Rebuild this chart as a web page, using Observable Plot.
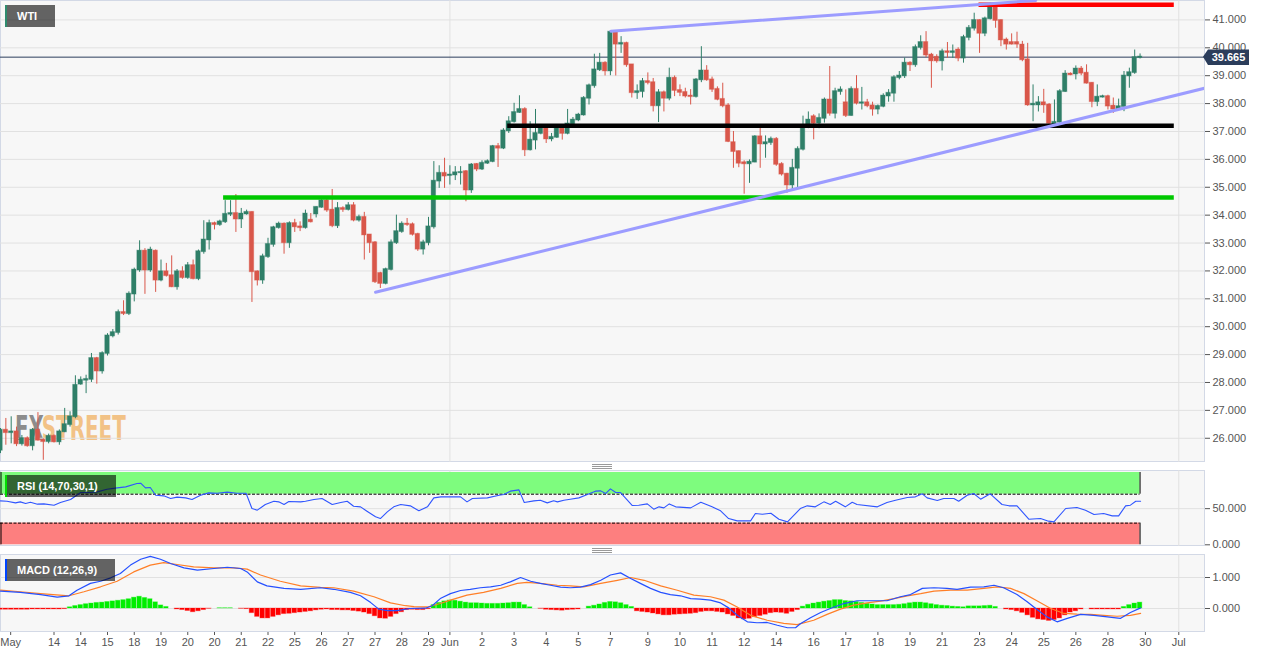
<!DOCTYPE html>
<html><head><meta charset="utf-8">
<script src="https://cdn.jsdelivr.net/npm/d3@7"></script>
<script src="https://cdn.jsdelivr.net/npm/@observablehq/plot@0.6"></script>
<style>
html,body{margin:0;padding:0;background:#fff;}
#wrap{position:relative;width:1269px;height:655px;overflow:hidden;font-family:'Liberation Sans',Arial,sans-serif;}
.panel{position:absolute;left:0;width:1205px;box-sizing:border-box;background:#f7f7f7;border:1px solid #d3d9e6;}
.layer{position:absolute;left:0;}
.tag{position:absolute;height:22px;line-height:22px;background:rgba(0,0,0,0.6);color:#fff;font-weight:bold;font-size:11px;box-sizing:border-box;padding-left:10px;border-left:2px solid;}
.handle{position:absolute;left:592px;width:20px;height:3px;border-top:1px solid #9a9a9a;border-bottom:1px solid #9a9a9a;}
.handle::after{content:"";position:absolute;left:0;right:0;top:1px;border-top:1px solid #9a9a9a;}
</style></head>
<body>
<div id="wrap">
  <div class="panel" style="top:0;height:462px;"></div>
  <div class="panel" style="top:470px;height:76px;"></div>
  <div class="panel" style="top:554px;height:78px;"></div>
  <svg style="position:absolute;left:0;top:400px;" width="200" height="50">
    <g transform="translate(15,39.5) scale(0.67,1)" font-size="33" font-weight="bold" font-family="'DejaVu Sans Condensed','Liberation Sans Narrow',sans-serif">
      <text x="0" y="0" fill="#8c8c8c">FX</text>
      <text x="40" y="0" fill="#f2c286">STREET</text>
    </g>
  </svg>
  <div class="handle" style="top:464px;"></div>
  <div class="handle" style="top:548px;"></div>
  <div id="mainL" class="layer" style="top:0;"></div>
  <div id="rsiL" class="layer" style="top:470px;"></div>
  <div id="macdL" class="layer" style="top:554px;"></div>
  <div class="tag" style="left:5px;top:5px;width:50px;border-left-color:#2e8b6e;">WTI</div>
  <div class="tag" style="left:5px;top:475px;width:111px;border-left-color:#00dd00;">RSI (14,70,30,1)</div>
  <div class="tag" style="left:5px;top:559px;width:110px;border-left-color:#0044ff;">MACD (12,26,9)</div>
  <svg style="position:absolute;left:1200px;top:46px;" width="60" height="24">
    <polygon points="3,10.8 8,3.5 49,3.5 49,19 8,19" fill="#2b3d5b"></polygon>
    <text x="28.5" y="15.3" text-anchor="middle" fill="#fff" font-size="11" font-weight="bold" font-family="'Liberation Sans',Arial,sans-serif">39.665</text>
  </svg>
</div>
<script>
// ---------- candle data (4-hour candles, index 0..213) ----------
const openP = [
25.57,26.29,26.20,26.23,25.80,25.99,25.73,26.29,25.93,25.88,
26.07,25.87,26.23,26.49,26.77,27.94,28.08,28.11,28.86,28.41,
29.04,29.67,29.79,30.51,30.47,31.17,32.03,32.71,32.03,32.71,
31.67,31.97,31.83,31.43,31.97,31.76,32.19,31.72,32.69,33.11,
33.70,33.66,33.76,34.03,34.06,33.86,34.04,34.10,31.97,31.67,
32.51,32.95,33.55,33.68,33.01,33.70,33.58,33.55,33.82,34.04,
34.28,34.51,34.18,33.62,34.24,34.20,34.34,33.82,33.92,33.29,
33.01,31.91,31.55,32.05,33.01,33.41,33.68,33.66,33.31,32.78,
33.01,33.58,35.22,35.50,35.42,35.44,35.52,35.56,34.90,35.82,
35.65,35.86,35.92,36.46,36.40,37.02,37.35,37.68,37.79,36.34,
36.69,36.93,37.15,36.73,36.79,37.17,36.93,37.27,37.41,37.59,
38.19,38.64,39.21,39.45,39.17,40.56,40.13,40.16,39.39,38.39,
38.43,38.79,38.75,37.92,38.39,38.19,38.91,38.47,38.40,38.27,
38.25,38.85,39.17,38.85,38.51,38.15,37.92,36.60,36.28,35.88,
35.84,35.90,36.81,36.55,36.60,36.72,35.82,35.47,35.08,35.68,
36.36,37.20,37.53,37.30,37.47,38.13,37.65,38.43,38.03,37.57,
38.51,38.01,38.03,37.92,37.80,37.90,38.27,38.37,38.93,38.99,
39.45,39.39,40.01,40.19,39.74,39.66,39.53,39.86,39.83,39.92,
39.63,40.37,40.70,40.98,40.52,41.04,41.48,40.98,40.28,40.19,
40.19,40.10,39.57,37.95,37.95,38.03,37.95,37.25,37.33,38.43,
39.06,39.06,39.24,39.09,38.73,38.07,38.23,38.25,37.91,37.80,
37.89,38.99,39.11,39.65];
const highP = [
26.35,26.71,26.77,26.40,26.10,26.05,26.35,26.92,25.98,26.15,
26.12,26.30,27.07,26.95,28.24,28.20,28.26,29.04,28.90,29.10,
29.75,29.90,30.60,30.93,31.25,32.10,33.08,32.80,32.85,32.75,
32.39,32.27,32.54,32.05,32.15,32.30,32.39,32.75,33.80,33.82,
33.75,33.82,34.52,34.52,34.74,34.24,34.18,34.12,32.00,32.60,
33.17,33.60,33.75,33.72,33.76,33.85,33.76,34.18,34.06,34.30,
34.55,34.56,34.92,34.45,34.30,34.45,34.45,34.00,34.10,33.30,
33.05,31.95,32.10,33.11,34.00,33.76,33.88,33.72,33.35,33.10,
33.92,35.92,35.77,36.04,35.77,35.74,35.74,35.60,35.85,35.85,
35.95,35.98,36.50,36.57,37.10,37.53,38.01,38.28,37.85,37.35,
37.79,37.20,37.20,36.93,37.22,37.20,37.79,37.50,37.65,38.25,
38.70,39.77,39.80,39.50,40.62,40.62,40.40,40.20,39.40,38.67,
38.90,39.10,38.90,38.50,38.45,39.27,38.99,38.67,38.55,38.50,
38.90,40.04,39.36,38.95,38.60,38.73,38.00,37.00,36.30,35.95,
35.98,36.85,37.15,36.84,36.80,36.78,35.88,35.50,36.00,36.45,
37.55,37.70,37.60,37.63,38.20,39.33,38.55,38.60,38.49,38.60,
39.00,38.58,38.15,38.05,37.95,38.35,38.50,39.00,39.15,39.63,
39.50,40.10,40.43,40.58,39.80,39.75,39.95,40.19,40.10,40.00,
40.45,40.80,41.24,41.00,41.10,41.60,41.62,41.00,40.35,40.50,
40.56,40.23,40.16,38.67,38.25,38.51,38.00,38.13,38.50,39.18,
39.10,39.35,39.33,39.39,38.75,38.67,38.30,38.30,38.20,38.16,
39.15,39.27,39.92,39.78];
const lowP = [
25.45,25.75,25.80,25.70,25.72,25.68,25.55,25.90,25.21,25.80,
25.83,25.75,26.20,26.40,26.70,27.90,27.60,28.00,27.94,28.30,
28.95,29.60,29.70,30.40,30.40,30.89,31.95,31.16,31.95,31.23,
31.61,31.78,31.40,31.31,31.70,31.70,31.68,31.65,32.60,32.75,
33.47,33.60,33.70,33.95,33.38,33.52,34.00,30.87,31.46,31.52,
32.45,32.85,33.50,32.60,32.81,33.38,33.41,33.50,33.72,33.90,
34.25,34.10,33.55,33.52,34.10,34.15,33.76,33.75,32.39,32.63,
31.55,31.37,31.50,32.00,32.95,33.35,33.60,33.25,32.70,32.57,
32.90,33.50,34.96,34.96,35.08,35.24,35.08,34.48,34.78,35.56,
35.60,35.82,35.88,35.71,36.35,36.93,37.30,37.65,36.10,36.30,
36.34,36.88,36.57,36.63,36.75,36.69,36.88,37.20,37.35,37.55,
37.95,38.55,39.15,38.99,39.00,38.99,39.80,39.30,38.20,38.15,
38.20,38.67,37.70,37.32,37.70,38.10,38.25,38.25,38.20,37.95,
38.20,38.75,38.80,38.40,38.10,37.85,36.60,35.68,35.70,34.75,
35.14,35.88,35.68,36.04,36.50,35.75,35.40,34.78,34.88,34.97,
36.30,37.10,36.70,37.10,37.30,37.55,37.45,38.30,37.50,37.55,
37.95,37.77,37.85,37.55,37.60,37.85,38.05,38.05,38.85,38.90,
39.15,39.30,39.92,39.65,38.55,39.45,39.17,39.62,39.62,39.50,
39.45,40.25,40.60,39.80,40.40,41.00,40.70,40.04,39.92,40.10,
39.98,39.50,37.90,37.35,37.70,37.65,37.20,37.20,37.25,38.40,
39.00,38.85,39.00,38.70,37.85,37.89,38.20,37.77,37.65,37.75,
37.71,38.55,39.05,39.60];
const closeP = [
26.29,26.20,26.23,25.80,25.99,25.73,26.29,25.93,25.88,26.07,
25.87,26.23,26.49,26.77,27.90,28.08,28.11,28.86,28.41,29.04,
29.67,29.79,30.51,30.47,31.17,32.03,32.71,32.03,32.75,31.67,
31.97,31.83,31.43,31.97,31.76,32.19,31.72,32.69,33.11,33.70,
33.66,33.76,34.03,34.06,33.86,34.04,34.10,31.97,31.67,32.51,
32.95,33.55,33.68,33.01,33.70,33.58,33.55,34.04,33.76,34.28,
34.51,34.18,33.62,34.24,34.20,34.34,33.82,33.92,33.29,33.01,
31.61,31.55,32.05,33.01,33.41,33.68,33.66,33.31,32.78,33.01,
33.58,35.22,35.50,35.40,35.44,35.52,35.53,34.90,35.80,35.65,
35.86,35.92,36.46,36.40,37.02,37.35,37.68,37.79,36.34,36.69,
36.93,37.15,36.73,36.79,37.17,36.93,37.27,37.41,37.59,38.19,
38.64,39.21,39.45,39.17,40.56,40.13,40.16,39.39,38.39,38.43,
38.79,38.75,37.92,38.39,38.19,38.91,38.47,38.40,38.27,38.25,
38.85,39.17,38.85,38.51,38.15,37.92,36.64,36.28,35.86,35.84,
35.90,36.81,36.55,36.60,36.72,35.82,35.47,35.08,35.68,36.36,
37.20,37.41,37.29,37.47,38.13,37.65,38.43,38.49,37.57,38.51,
38.01,38.03,37.92,37.80,37.90,38.27,38.37,38.93,38.99,39.45,
39.39,40.01,40.19,39.74,39.53,39.53,39.86,39.83,39.86,39.63,
40.37,40.70,40.98,40.52,41.04,41.48,40.98,40.28,40.13,40.13,
40.13,39.57,37.95,37.98,38.03,37.95,37.29,37.33,38.43,39.06,
39.03,39.24,39.09,38.73,38.07,38.23,38.25,37.91,37.80,37.89,
38.99,39.11,39.65,39.67];
const lastPrice = 39.665;

// x-axis ticks (candle index) and labels
const tickIdx = [1.9,10,15,20,25,30,35,40,45,50,55,60,65,70,75,80,84,90,96,102,108,114,121,127,133,139,145,152,158,164,170,176,183,189,195,201,207,214,220.24];
const tickText = ["May","14","14","15","18","19","20","20","21","22","25","26","27","27","28","29","Jun","2","3","4","5","7","9","10","11","12","14","16","17","18","19","21","23","24","25","26","28","30","Jul"];
const monthIdx = [84, 220.24];
const priceTicks = [26,27,28,29,30,31,32,33,34,35,36,37,38,39,40,41];

// drawn levels and trend lines
const levelPrice = [41.545, 37.207, 34.632];
const levelFrom = [182.9, 94.8, 41.7];
const levelTo = [219.4, 219.4, 219.4];
const upperTrendIdx = [114.1, 193.5];
const upperTrendPrice = [40.595, 41.70];
const lowerTrendIdx = [70.1, 225.05];
const lowerTrendPrice = [31.237, 38.551];

// RSI (14) line
const rsiIdx = [0,1.2,2.8,3.7,4.7,5.6,6.9,8.1,10,11.2,13.1,15,16.8,18.1,19.9,21.8,23.4,25.5,26.2,27.1,28,29,30.5,31.8,33,34.6,35.8,37.4,38.9,40.5,42.4,44.2,45.9,47,48,49.5,51.1,52,53,53.9,56.1,57,58.6,60.1,62,63.6,64.8,66,67.3,68.5,70.1,71,72.3,73.5,
74.8,76.6,78.2,79.8,81,82.3,86,87.2,88.2,91,93.2,94.1,95.3,96.9,97.9,99.7,100.9,102.2,103.4,104.1,105.3,106.5,108.1,109.7,111.2,112.2,113.1,114,115,115.9,118.1,119.3,120.9,122.1,123.1,124,125,126.2,129,130.9,133,134.6,136.1,137.7,140.2,141.1,142.4,144,145.5,147.1,
149.5,150.8,152.3,153.9,155.1,156.1,157.9,159.2,160.1,163.9,165.7,167.3,169.5,171,172.3,173.2,175.1,176.3,178.2,179.1,180.7,181.9,183.2,185,187.2,188.5,190,192.2,194.4,195.9,196.9,199.1,201.2,202.8,204.4,206.2,207.8,209,210.3,211.2,212.2,213.1];
const rsiVal = [60.8,60.3,58.0,59.4,57.1,58.9,56.2,56.6,54.8,58.5,62.6,72.3,72.3,73.2,76.9,78.8,80.1,84.8,85.2,78.8,79.2,68.6,67.7,64.0,65.9,64.9,62.6,68.6,71.8,71.4,72.8,71.4,71.4,50.2,47.9,55.7,60.3,59.4,55.7,59.9,59.4,60.3,62.6,64.0,55.7,58.5,60.3,53.4,52.5,46.5,38.7,36.3,45.6,52.5,
55.7,53.9,47.0,52.5,64.9,66.3,66.3,59.4,64.0,64.9,68.6,69.5,74.2,76.0,58.5,60.8,61.7,58.0,60.8,59.4,61.7,63.1,64.9,69.5,74.2,74.6,70.9,77.4,72.3,72.3,54.3,54.8,56.6,49.3,52.5,51.1,56.6,52.5,51.1,58.9,52.5,47.0,36.3,33.1,33.1,43.3,42.3,43.7,35.4,31.7,
50.2,53.9,52.5,59.4,55.7,60.3,52.5,58.9,55.7,52.5,58.5,61.7,65.4,66.3,70.5,64.9,61.2,64.0,64.0,60.3,68.6,70.9,63.1,70.5,55.7,53.9,53.9,35.4,36.3,32.7,31.7,50.2,51.6,47.9,41.9,43.3,40.0,40.0,53.9,54.8,60.3,60.3];
const rsiBandLow = [70, 0];
const rsiBandHigh = [100, 30];

// MACD (12,26,9)
const macdIdx = [0,3.7,7.5,10.6,12.8,14.3,16.8,18.7,20.6,22.4,24.3,26.2,28,29.9,31.8,34.3,36.8,39.9,42.4,44.9,46.1,48,49.8,53,56.1,59.8,62.3,65.4,67.3,69.2,70.7,72.3,74.1,
76.5,79.4,80.7,82.2,84.1,86,87.8,89.7,91.6,93.5,95.3,97.2,99.1,100.9,102.8,104.7,106.5,108.4,110.3,112.2,114,115.9,117.8,119.6,121.5,123.4,125.2,127.1,129,130.8,132.7,134.6,136.1,137.7,139.6,141.4,143.3,145.2,147.1,148.6,
149.5,151.4,153.3,155.1,157.6,160.1,163.2,165.7,168.2,170.1,172.3,174.5,176.9,178.8,181.3,183.8,185.7,187.5,190,191.9,193.5,195.6,197.5,199.4,201.9,204.4,206.9,209.3,211.2,213.1];
const macdVal = [0.56,0.52,0.45,0.37,0.41,0.59,0.81,0.88,0.99,1.13,1.40,1.59,1.68,1.59,1.45,1.31,1.24,1.29,1.33,1.29,1.18,0.86,0.73,0.65,0.62,0.67,0.62,0.52,0.41,0.19,-0.02,-0.07,-0.07,
0.00,0.01,0.09,0.32,0.48,0.58,0.62,0.67,0.70,0.75,0.86,1.00,0.88,0.81,0.75,0.69,0.67,0.69,0.77,0.91,1.08,1.15,0.97,0.81,0.65,0.52,0.45,0.41,0.32,0.30,0.27,0.18,0.02,-0.22,-0.43,-0.46,-0.45,-0.54,-0.62,-0.62,
-0.49,-0.30,-0.13,0.00,0.16,0.25,0.25,0.25,0.38,0.45,0.65,0.67,0.65,0.62,0.69,0.70,0.75,0.67,0.45,0.22,0.00,-0.27,-0.43,-0.32,-0.19,-0.22,-0.27,-0.32,-0.13,0.02];
const signalIdx = [0,3.7,7.5,12.8,15.6,18.7,21.8,24.9,28,30.5,33,36.1,39.9,43.6,46.1,48.6,52.3,56.1,59.8,62.3,66,69.8,72.9,75.7,
77.3,79.8,82.2,84.1,87.2,90.3,93.5,96.6,98.4,100.9,104.1,106.5,109,112.2,115.3,117.8,120.3,123.4,126.5,129.6,132.7,135.2,137.7,140.2,143.3,146.4,148.9,
152,154.5,157,159.5,162,164.5,167,169.5,172,174.5,177.6,180.7,183.8,186.3,188.8,191.3,193.8,196.3,198.8,201.2,203.7,206.2,208.7,211.2,213.1];
const signalVal = [0.59,0.54,0.48,0.41,0.54,0.70,0.88,1.18,1.40,1.48,1.42,1.34,1.31,1.31,1.27,1.08,0.88,0.73,0.68,0.67,0.56,0.38,0.18,0.09,
0.06,0.05,0.16,0.27,0.43,0.52,0.65,0.81,0.84,0.81,0.75,0.73,0.70,0.81,0.91,1.00,0.91,0.73,0.59,0.43,0.38,0.27,0.05,-0.22,-0.38,-0.48,-0.52,
-0.38,-0.19,-0.02,0.11,0.18,0.24,0.32,0.41,0.48,0.56,0.59,0.59,0.65,0.70,0.65,0.48,0.24,0.00,-0.16,-0.18,-0.19,-0.22,-0.25,-0.22,-0.16];
const histVal = [
-0.04,-0.04,-0.04,-0.04,-0.04,-0.04,-0.03,-0.03,-0.03,-0.03,-0.03,-0.03,-0.02,
0.04,0.08,0.11,0.14,0.16,0.18,0.19,0.21,0.23,0.25,0.27,0.30,0.35,0.38,0.34,0.30,0.20,0.10,0.05,
0.00,-0.03,-0.05,-0.08,-0.12,-0.09,-0.05,-0.01,0.00,0.01,0.01,0.01,0.00,-0.01,-0.02,
-0.15,-0.27,-0.32,-0.32,-0.27,-0.22,-0.18,-0.17,-0.15,-0.13,-0.11,-0.09,-0.06,-0.04,-0.03,-0.05,-0.05,-0.06,-0.06,-0.08,-0.10,-0.13,-0.18,-0.25,-0.32,-0.33,-0.27,-0.18,-0.12,
-0.05,-0.04,-0.05,-0.05,-0.02,
0.11,0.18,0.23,0.26,0.25,0.22,0.19,0.17,0.17,0.16,0.15,0.15,0.15,0.16,0.17,0.19,0.19,0.11,0.04,
0.00,-0.01,-0.04,-0.05,-0.06,-0.07,-0.05,-0.04,-0.03,
0.00,0.06,0.09,0.13,0.18,0.21,0.20,0.17,0.11,0.05,
-0.09,-0.11,-0.13,-0.16,-0.19,-0.22,-0.22,-0.20,-0.19,-0.18,-0.17,-0.15,-0.11,-0.09,-0.09,-0.11,-0.13,-0.19,-0.24,-0.32,-0.35,-0.33,-0.28,-0.24,-0.20,-0.15,-0.13,-0.14,-0.17,-0.11,-0.05,
0.06,0.12,0.16,0.19,0.22,0.24,0.27,0.27,0.24,0.23,0.21,0.18,0.15,0.13,0.11,0.11,0.11,0.11,0.12,0.14,0.17,0.19,0.19,0.17,0.14,0.11,0.09,0.08,0.06,0.05,0.04,0.07,0.07,0.07,0.08,0.09,0.05,
0.00,-0.03,-0.05,-0.09,-0.14,-0.22,-0.30,-0.35,-0.37,-0.40,-0.37,-0.32,-0.22,-0.13,-0.09,-0.03,0.00,-0.03,-0.03,-0.03,-0.03,-0.03,-0.03,
0.05,0.11,0.16,0.19];

// ---------- build ----------
const N = closeP.length;
const candles = d3.range(N).map(i => ({i, o: openP[i], h: highP[i], l: lowP[i], c: closeP[i]}));
const GREEN = "#2f7f68", RED = "#d9574a";
const col = d => d.c >= d.o ? GREEN : RED;
const W = 1269, MR = 65, PX = 5.35;
const xDomain = [0, 1204 / PX];
const style = {background: "transparent", fontFamily: "'Liberation Sans',Arial,sans-serif", fontSize: "11px", color: "#555", overflow: "visible"};
const GRID = "#e1e1e1";
const half = 0.42;
const pts = (xs, ys) => xs.map((x, k) => ({i: x, v: ys[k]}));

const levelColors = ["#ff0000", "#000000", "#00c800"];
const levels = levelPrice.map((p, k) => ({p, a: levelFrom[k], b: levelTo[k], color: levelColors[k]}));

const main = Plot.plot({
  width: W, height: 462, marginLeft: 0, marginRight: MR, marginTop: 0, marginBottom: 0,
  style,
  x: {domain: xDomain, axis: null},
  y: {domain: [25.131, 41.696], axis: "right", ticks: priceTicks, tickFormat: d3.format(".3f"), tickSize: 5, tickPadding: 3, label: null},
  marks: [
    Plot.ruleY(priceTicks, {stroke: GRID}),
    Plot.ruleX(monthIdx, {stroke: GRID}),
    Plot.ruleY([lastPrice], {stroke: "#2c3e5c", strokeWidth: 1}),
    Plot.ruleX(candles, {x: "i", y1: "l", y2: "h", stroke: col, strokeWidth: 1, clip: true}),
    Plot.rect(candles, {x1: d => d.i - half, x2: d => d.i + half, y1: "o", y2: "c", fill: col, stroke: col, strokeOpacity: 0.35, insetTop: -0.5, insetBottom: -0.5, clip: true}),
    Plot.ruleY(levels, {y: "p", x1: "a", x2: "b", stroke: "color", strokeWidth: 4.5}),
    Plot.line(pts(upperTrendIdx, upperTrendPrice), {x: "i", y: "v", stroke: "#9c9cff", strokeWidth: 3, clip: true}),
    Plot.line(pts(lowerTrendIdx, lowerTrendPrice), {x: "i", y: "v", stroke: "#9c9cff", strokeWidth: 3, clip: true})
  ]
});
document.getElementById("mainL").appendChild(main);

const lastIdx = N - 1;
const bands = rsiBandLow.map((lo, k) => ({lo, hi: rsiBandHigh[k], a: 0, b: lastIdx, fill: k === 0 ? "#7efc7e" : "#fd7f7f"}));
const rsi = Plot.plot({
  width: W, height: 76, marginLeft: 0, marginRight: MR, marginTop: 0, marginBottom: 0,
  style,
  x: {domain: xDomain, axis: null},
  y: {domain: [-2.35, 102.77], axis: "right", ticks: [0, 50], tickFormat: d3.format(".3f"), tickSize: 5, tickPadding: 3, label: null},
  marks: [
    Plot.ruleY([50], {stroke: GRID}),
    Plot.ruleX(monthIdx, {stroke: GRID}),
    Plot.rect(bands, {x1: "a", x2: "b", y1: "lo", y2: "hi", fill: "fill"}),
    Plot.ruleY([rsiBandLow[0], rsiBandHigh[1]], {x1: 0, x2: lastIdx, stroke: "#000", strokeDasharray: "3,1.5"}),
    Plot.ruleX(bands, {x: "b", y1: "lo", y2: "hi", stroke: "#000"}),
    Plot.ruleX(bands, {x: "a", y1: "lo", y2: "hi", stroke: "#000", dx: 0.5}),
    Plot.line(pts(rsiIdx, rsiVal), {x: "i", y: "v", stroke: "#2f55ff", strokeWidth: 1.1})
  ]
});
document.getElementById("rsiL").appendChild(rsi);

const labelOf = new Map(tickIdx.map((t, k) => [t, tickText[k]]));
const hist = histVal.map((v, i) => ({i, v}));
const macd = Plot.plot({
  width: W, height: 101, marginLeft: 0, marginRight: MR, marginTop: 0, marginBottom: 23,
  style,
  x: {domain: xDomain, ticks: tickIdx, tickFormat: d => labelOf.get(d), tickSize: 3, tickPadding: 3, label: null},
  y: {domain: [-0.774, 1.742], axis: "right", ticks: [0, 1], tickFormat: d3.format(".3f"), tickSize: 5, tickPadding: 3, label: null},
  marks: [
    Plot.ruleY([0, 1], {stroke: GRID}),
    Plot.ruleX(monthIdx, {stroke: GRID}),
    Plot.rect(hist, {x1: d => d.i - half, x2: d => d.i + half, y1: 0, y2: "v", fill: d => d.v >= 0 ? "#00ee00" : "#ff0000", stroke: d => d.v >= 0 ? "#00ee00" : "#ff0000", strokeOpacity: 0.3, clip: true}),
    Plot.line(pts(signalIdx, signalVal), {x: "i", y: "v", stroke: "#ff7f27", strokeWidth: 1.2}),
    Plot.line(pts(macdIdx, macdVal), {x: "i", y: "v", stroke: "#2550ff", strokeWidth: 1.2})
  ]
});
document.getElementById("macdL").appendChild(macd);
</script>
</body></html>
